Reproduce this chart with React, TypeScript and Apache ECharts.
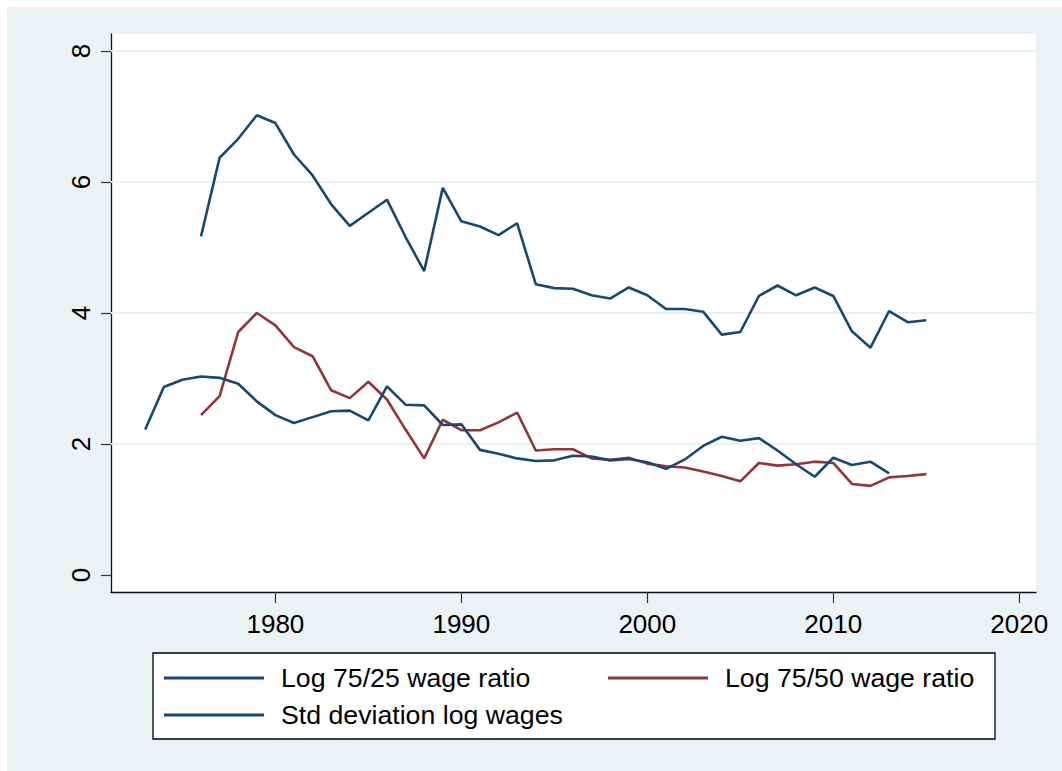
import React, { useEffect, useRef } from "react";
import * as echarts from "echarts";

const yearsStd = [1973, 1974, 1975, 1976, 1977, 1978, 1979, 1980, 1981, 1982, 1983, 1984, 1985, 1986, 1987, 1988, 1989, 1990, 1991, 1992, 1993, 1994, 1995, 1996, 1997, 1998, 1999, 2000, 2001, 2002, 2003, 2004, 2005, 2006, 2007, 2008, 2009, 2010, 2011, 2012, 2013];
const stdLogWages = [2.22, 2.87, 2.98, 3.03, 3.01, 2.92, 2.65, 2.44, 2.32, 2.41, 2.5, 2.51, 2.36, 2.88, 2.6, 2.59, 2.29, 2.3, 1.91, 1.85, 1.78, 1.74, 1.75, 1.82, 1.81, 1.75, 1.77, 1.72, 1.62, 1.76, 1.97, 2.11, 2.05, 2.09, 1.9, 1.69, 1.5, 1.79, 1.68, 1.73, 1.55];

const yearsRatio = [1976, 1977, 1978, 1979, 1980, 1981, 1982, 1983, 1984, 1985, 1986, 1987, 1988, 1989, 1990, 1991, 1992, 1993, 1994, 1995, 1996, 1997, 1998, 1999, 2000, 2001, 2002, 2003, 2004, 2005, 2006, 2007, 2008, 2009, 2010, 2011, 2012, 2013, 2014, 2015];
const ratio7525 = [5.17, 6.37, 6.66, 7.02, 6.9, 6.42, 6.1, 5.66, 5.33, 5.53, 5.73, 5.16, 4.64, 5.91, 5.4, 5.32, 5.19, 5.37, 4.44, 4.38, 4.37, 4.27, 4.22, 4.39, 4.27, 4.06, 4.06, 4.02, 3.67, 3.71, 4.26, 4.42, 4.27, 4.39, 4.26, 3.72, 3.47, 4.03, 3.86, 3.89];
const ratio7550 = [2.44, 2.73, 3.71, 4.0, 3.81, 3.48, 3.34, 2.82, 2.7, 2.95, 2.68, 2.22, 1.78, 2.37, 2.21, 2.21, 2.33, 2.48, 1.9, 1.92, 1.92, 1.78, 1.76, 1.79, 1.7, 1.66, 1.64, 1.58, 1.51, 1.43, 1.71, 1.67, 1.69, 1.73, 1.71, 1.39, 1.36, 1.49, 1.51, 1.54];

const xTicks = [1980, 1990, 2000, 2010, 2020];
const yTicks = [0, 2, 4, 6, 8];
const gridValues = [2, 4, 6, 8];

const names = ["Log 75/25 wage ratio", "Log 75/50 wage ratio", "Std deviation log wages"];

const NAVY = "#1a476f";
const MAROON = "#90353b";
const FONT = "'Liberation Sans', Arial, Helvetica, sans-serif";

export default function App() {
  const ref = useRef<HTMLDivElement>(null);
  useEffect(() => {
    if (!ref.current) return;
    const chart = echarts.init(ref.current, null, { renderer: "svg" });
    const pair = (xs: number[], ys: number[]) => xs.map((x, i) => [x, ys[i]]);
    const legendBase = {
      orient: "horizontal",
      padding: 0,
      icon: "rect",
      itemWidth: 100,
      itemHeight: 3,
      selectedMode: false,
      textStyle: { fontSize: 26.7, fontFamily: FONT, color: "#000", lineHeight: 30, padding: [0, 0, 0, 12] },
    };
    chart.setOption({
      animation: false,
      backgroundColor: "#ffffff",
      graphic: [
        { type: "rect", z: -10, silent: true, shape: { x: 7, y: 7, width: 1055, height: 764 }, style: { fill: "#EAF2F3" } },
        { type: "rect", z: 0, silent: true, shape: { x: 153, y: 653, width: 842, height: 86 }, style: { fill: "#ffffff", stroke: "#000", lineWidth: 1.3 } },
      ],
      grid: { left: 111, right: 26, top: 34, bottom: 179, show: true, backgroundColor: "#ffffff", borderWidth: 0, containLabel: false },
      xAxis: {
        type: "value",
        min: 1971.16,
        max: 2020.9,
        axisLine: { show: true, onZero: false, lineStyle: { color: "#111", width: 1.3 } },
        axisTick: { show: true, length: 11, customValues: xTicks, lineStyle: { color: "#333", width: 1.2 } },
        axisLabel: { customValues: xTicks, margin: 19, fontSize: 26, fontFamily: FONT, color: "#000", formatter: (v: number) => String(v) },
        splitLine: { show: false },
      },
      yAxis: {
        type: "value",
        min: -0.26,
        max: 8.26,
        axisLine: { show: true, onZero: false, lineStyle: { color: "#111", width: 1.3 } },
        axisTick: { show: true, length: 10, customValues: yTicks, lineStyle: { color: "#333", width: 1.2 } },
        axisLabel: { customValues: yTicks, rotate: 90, margin: 17, fontSize: 26, fontFamily: FONT, color: "#000", formatter: (v: number) => String(v) },
        splitLine: { show: false },
      },
      legend: [
        { ...legendBase, data: [names[0]], left: 164, top: 663 },
        { ...legendBase, data: [names[1]], left: 608, top: 663 },
        { ...legendBase, data: [names[2]], left: 164, top: 700 },
      ],
      series: [
        {
          name: "grid",
          type: "line",
          data: [],
          silent: true,
          z: 1,
          markLine: {
            silent: true,
            z: 1,
            symbol: ["none", "none"],
            label: { show: false },
            lineStyle: { color: "#EAF2F3", width: 2, type: "solid" },
            emphasis: { disabled: true },
            data: gridValues.map((v) => ({ yAxis: v })),
          },
        },
        {
          name: names[0],
          type: "line",
          z: 3,
          data: pair(yearsRatio, ratio7525),
          showSymbol: false,
          color: NAVY,
          lineStyle: { color: NAVY, width: 2.6 },
        },
        {
          name: names[1],
          type: "line",
          z: 3,
          data: pair(yearsRatio, ratio7550),
          showSymbol: false,
          color: MAROON,
          lineStyle: { color: MAROON, width: 2.6 },
        },
        {
          name: names[2],
          type: "line",
          z: 3,
          data: pair(yearsStd, stdLogWages),
          showSymbol: false,
          color: NAVY,
          lineStyle: { color: NAVY, width: 2.6 },
        },
      ],
    });
    return () => chart.dispose();
  }, []);
  return <div ref={ref} style={{ position: "fixed", left: 0, top: 0, width: 1062, height: 771 }} />;
}
